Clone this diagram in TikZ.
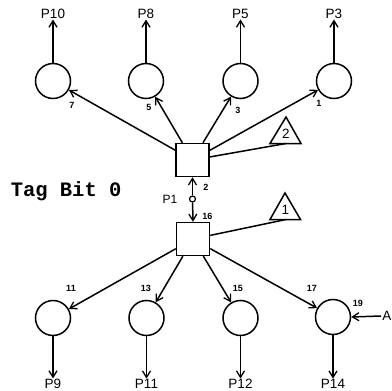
\documentclass[tikz,border=0pt]{standalone}
\usepackage{fontspec}
\setmainfont{Liberation Sans}
\newfontfamily\tagfont{Liberation Mono}
\usetikzlibrary{arrows.meta}
\begin{document}
\begin{tikzpicture}[x=1pt,y=-1pt,
  line width=1.5pt,
  arr/.style={-{Straight Barb[length=6.5pt,width=8pt,line width=1.3pt]}},
  place/.style={circle,draw,minimum size=35pt,inner sep=0pt,line width=1.5pt},
  trans/.style={rectangle,draw,minimum size=33pt,inner sep=0pt,line width=1.5pt},
  pin/.style={circle,draw,minimum size=6pt,inner sep=0pt,line width=1.2pt},
  plab/.style={font=\fontsize{13.5}{14}\selectfont,inner sep=0pt},
  num/.style={font=\bfseries\fontsize{9}{10}\selectfont,inner sep=0pt},
  tri/.style={line width=1.5pt,line join=miter}]
\useasboundingbox (0,0) rectangle (392,391);
% transitions
\node[trans] (sqU) at (192.5,160) {};
\node[trans] (sqL) at (193,239) {};
\node[pin] (p1) at (192.5,199) {};
% top places
\node[place] (c7) at (53,81) {};
\node[place] (c5) at (146,81) {};
\node[place] (c3) at (240.5,81) {};
\node[place] (c1) at (334,81) {};
% bottom places
\node[place] (c11) at (53,318) {};
\node[place] (c13) at (146.5,318) {};
\node[place] (c15) at (240.5,318) {};
\node[place] (c19) at (333,317) {};
% output labels
\node[plab] (P10) at (53,14) {P10};
\node[plab] (P8) at (146,14) {P8};
\node[plab] (P5) at (240.5,14) {P5};
\node[plab] (P3) at (334,14) {P3};
\node[plab] (P9) at (53,384) {P9};
\node[plab] (P11) at (146.5,384) {P11};
\node[plab] (P12) at (240.5,384) {P12};
\node[plab] (P14) at (333,384) {P14};
\node[plab] (A) at (387,316) {A};
\coordinate (Aend) at (381,316);
% output arrows
\draw[arr] (c7.north) -- (P10.south);
\draw[arr] (c5.north) -- (P8.south);
\draw[arr] (c3.north) -- (P5.south);
\draw[arr] (c1.north) -- (P3.south);
\draw[arr] (c11.south) -- (P9.north);
\draw[arr] (c13.south) -- (P11.north);
\draw[arr] (c15.south) -- (P12.north);
\draw[arr] (c19.south) -- (P14.north);
\draw[arr] (Aend) -- (c19.east);
% triangles
\coordinate (t2a) at (286,117);
\coordinate (t2l) at (270,143.5);
\coordinate (t2r) at (301,143.5);
\coordinate (t2b) at (286,143.5);
\draw[tri] (t2a) -- (t2l) -- (t2r) -- cycle;
\node[plab] (t2lab) at (286,133.5) {2};
\coordinate (t1a) at (285,193);
\coordinate (t1l) at (270,219.5);
\coordinate (t1r) at (300.5,219.5);
\coordinate (t1b) at (286,219.5);
\draw[tri] (t1a) -- (t1l) -- (t1r) -- cycle;
\node[plab] (t1lab) at (285.5,209.5) {1};
% arcs from upper transition
\draw[arr] (sqU) -- (c7);
\draw[arr] (sqU) -- (c5);
\draw[arr] (sqU) -- (c3);
\draw[arr] (sqU) -- (c1);
\draw (sqU) -- (t2b);
% arcs from lower transition
\draw[arr] (sqL) -- (c11);
\draw[arr] (sqL) -- (c13);
\draw[arr] (sqL) -- (c15);
\draw[arr] (sqL) -- (c19);
\draw (sqL) -- (t1b);
% pin
\draw[arr] (p1) -- (sqU.south);
\draw[arr] (p1) -- (sqL.north);
% small labels
\node[num] at (72,105) {7};
\node[num] at (149,107) {5};
\node[num] at (238,110) {3};
\node[num] at (319,103) {1};
\node[num] at (206,187) {2};
\node[num] at (207.5,216) {16};
\node[num] at (71,288) {11};
\node[num] at (146,288) {13};
\node[num] at (238,288) {15};
\node[num] at (312,288) {17};
\node[num] at (358,303) {19};
\node[plab,font=\fontsize{12}{13}\selectfont] (P1) at (170,199) {P1};
\node[anchor=base west,inner sep=0pt,font=\tagfont\bfseries\fontsize{20.5}{21}\selectfont] (tag) at (10,196.7) {Tag Bit 0};
\end{tikzpicture}
\end{document}
